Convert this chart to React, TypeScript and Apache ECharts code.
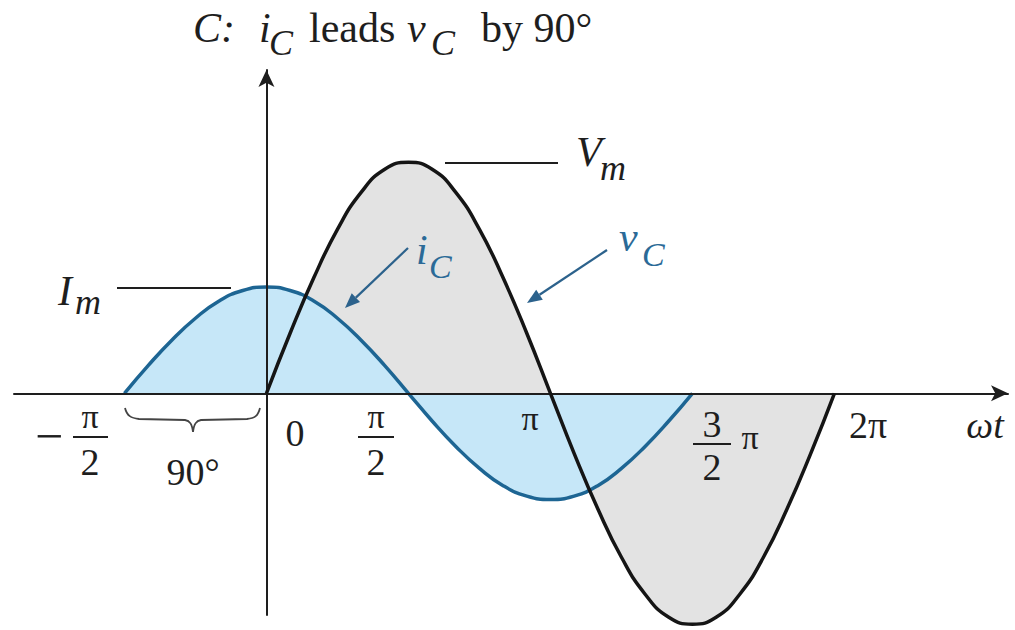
import React, { useEffect, useRef } from "react";
import * as echarts from "echarts";

// phase (degrees) and values (in units of Vm)
const vPhase = [0, 15, 30, 45, 60, 75, 90, 105, 120, 135, 150, 165, 180, 195, 210, 225, 240, 255, 270, 285, 300, 315, 330, 345, 360];
const vValues = [0, 0.26, 0.5, 0.71, 0.87, 0.97, 1, 0.97, 0.87, 0.71, 0.5, 0.26, 0, -0.26, -0.5, -0.71, -0.87, -0.97, -1, -0.97, -0.87, -0.71, -0.5, -0.26, 0];
const iPhase = [-90, -75, -60, -45, -30, -15, 0, 15, 30, 45, 60, 75, 90, 105, 120, 135, 150, 165, 180, 195, 210, 225, 240, 255, 270];
const iValues = [0, 0.12, 0.23, 0.325, 0.4, 0.445, 0.46, 0.445, 0.4, 0.325, 0.23, 0.12, 0, -0.12, -0.23, -0.325, -0.4, -0.445, -0.46, -0.445, -0.4, -0.325, -0.23, -0.12, 0];

const SERIF = "Liberation Serif";
const INK = "#1e1e1e";
const BLUE_LINE = "#1d6593";
const BLUE_TXT = "#2b6a97";

function txt(text: string, x: number, y: number, size: number, opts: any = {}) {
  const align = opts.align || "center";
  return {
    type: "text",
    x,
    y,
    z: 100,
    silent: true,
    style: {
      text,
      fontFamily: SERIF,
      fontSize: size,
      fontStyle: opts.italic ? "italic" : "normal",
      fill: opts.color || INK,
      textAlign: align,
      textVerticalAlign: "middle",
      align,
      verticalAlign: "middle",
    },
  };
}

function seg(x1: number, y1: number, x2: number, y2: number, color = INK, w = 2) {
  return {
    type: "line",
    z: 100,
    silent: true,
    shape: { x1, y1, x2, y2 },
    style: { stroke: color, lineWidth: w },
  };
}

function arrow(x1: number, y1: number, tx: number, ty: number, color: string) {
  const dx = tx - x1;
  const dy = ty - y1;
  const len = Math.sqrt(dx * dx + dy * dy);
  const ux = dx / len;
  const uy = dy / len;
  const hl = 15;
  const hw = 6;
  const bx = tx - hl * ux;
  const by = ty - hl * uy;
  const px = -uy;
  const py = ux;
  return [
    seg(x1, y1, bx, by, color, 2.2),
    {
      type: "polygon",
      z: 100,
      silent: true,
      shape: {
        points: [
          [tx, ty],
          [bx + hw * px, by + hw * py],
          [bx - hw * px, by - hw * py],
        ],
      },
      style: { fill: color },
    },
  ];
}

let braceRegistered = false;

export default function App() {
  const ref = useRef<HTMLDivElement>(null);

  useEffect(() => {
    if (!ref.current) return;
    if (!braceRegistered) {
      echarts.graphic.registerShape(
        "brace",
        echarts.graphic.extendPath(
          "M0,0 C2,8 6,10 14,11 L60,12 C65,13 67,16 68,24 C69,16 71,13 76,12 L122,11 C130,10 133,8 135,0",
          {}
        )
      );
      braceRegistered = true;
    }
    const chart = echarts.init(ref.current, null, { renderer: "svg" });

    const vData = vPhase.map((p, k) => [p, vValues[k]]);
    const iData = iPhase.map((p, k) => [p, iValues[k]]);

    const axisLine = {
      show: true,
      onZero: true,
      symbol: ["none", "arrow"],
      symbolSize: [12, 17],
      lineStyle: { color: INK, width: 2 },
    };

    const graphic: any[] = [
      // title
      txt("C:", 193, 28, 42, { italic: true, align: "left" }),
      txt("i", 259, 28, 42, { italic: true, align: "left" }),
      txt("C", 269, 43, 36, { italic: true, align: "left" }),
      txt("leads", 309, 28, 42, { align: "left" }),
      txt("v", 407, 28, 42, { italic: true, align: "left" }),
      txt("C", 431, 43, 36, { italic: true, align: "left" }),
      txt("by 90°", 481, 28, 42, { align: "left" }),
      // Im
      txt("I", 58, 291, 42, { italic: true, align: "left" }),
      txt("m", 75, 302, 36, { italic: true, align: "left" }),
      seg(117, 288, 231, 288),
      // Vm
      txt("V", 576, 152, 42, { italic: true, align: "left" }),
      txt("m", 600, 168, 36, { italic: true, align: "left" }),
      seg(445, 163, 558, 163),
      // iC label + arrow
      txt("i", 416, 250, 42, { italic: true, align: "left", color: BLUE_TXT }),
      txt("C", 429, 266, 34, { italic: true, align: "left", color: BLUE_TXT }),
      ...arrow(408, 248, 345, 308, "#2c628c"),
      // vC label + arrow
      txt("v", 619, 237, 42, { italic: true, align: "left", color: BLUE_TXT }),
      txt("C", 642, 254, 34, { italic: true, align: "left", color: BLUE_TXT }),
      ...arrow(607, 250, 527, 303, "#2c628c"),
      // tick labels
      txt("\u2212", 49, 436, 50),
      txt("\u03c0", 90, 416, 34),
      seg(73, 437, 108, 437, INK, 2),
      txt("2", 90, 462, 38),
      txt("0", 295, 433, 38),
      txt("\u03c0", 376, 416, 34),
      seg(358, 437, 394, 437, INK, 2),
      txt("2", 376, 462, 38),
      txt("\u03c0", 530, 418, 34),
      txt("3", 712, 424, 38),
      seg(693, 444, 731, 444, INK, 2),
      txt("2", 712, 467, 38),
      txt("\u03c0", 750, 437, 34),
      txt("2\u03c0", 868, 425, 38),
      txt("\u03c9t", 985, 425, 38, { italic: true }),
      // brace and 90°
      {
        type: "brace",
        x: 125,
        y: 408,
        z: 100,
        silent: true,
        style: { fill: "none", stroke: "#444", lineWidth: 1.8 },
      },
      txt("90°", 193, 472, 38),
    ];

    chart.setOption({
      animation: false,
      backgroundColor: "#ffffff",
      grid: { left: 14, top: 70, width: 994, height: 545, containLabel: false },
      xAxis: {
        type: "value",
        min: -160,
        max: 470,
        z: 3,
        axisLine,
        axisTick: { show: false },
        axisLabel: { show: false },
        splitLine: { show: false },
      },
      yAxis: {
        type: "value",
        min: -0.96,
        max: 1.4,
        z: 3,
        axisLine,
        axisTick: { show: false },
        axisLabel: { show: false },
        splitLine: { show: false },
      },
      series: [
        {
          name: "vC fill",
          type: "line",
          data: vData,
          smooth: true,
          clip: false,
          showSymbol: false,
          silent: true,
          lineStyle: { width: 0, opacity: 0 },
          areaStyle: { color: "#e3e3e3", opacity: 1, origin: 0 },
          z: 1,
        },
        {
          name: "iC",
          type: "line",
          data: iData,
          smooth: true,
          clip: false,
          showSymbol: false,
          silent: true,
          lineStyle: { width: 3.5, color: BLUE_LINE },
          areaStyle: { color: "#c6e7f8", opacity: 1, origin: 0 },
          z: 2,
        },
        {
          name: "vC",
          type: "line",
          data: vData,
          smooth: true,
          clip: false,
          showSymbol: false,
          silent: true,
          lineStyle: { width: 3.5, color: "#151515" },
          z: 4,
        },
      ],
      graphic,
    });

    return () => {
      chart.dispose();
    };
  }, []);

  return (
    <div
      ref={ref}
      style={{ position: "absolute", left: 0, top: 0, width: 1015, height: 630, background: "#fff" }}
    />
  );
}
